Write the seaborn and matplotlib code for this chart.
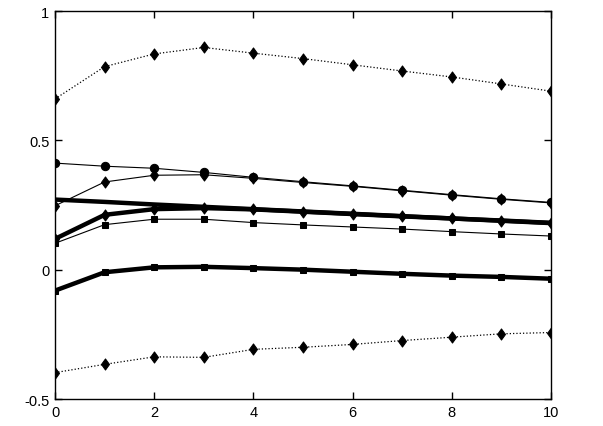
import matplotlib
matplotlib.use("Agg")
import matplotlib.pyplot as plt
from matplotlib.path import Path
import seaborn as sns
import pandas as pd

# horizon
steps = [0, 1, 2, 3, 4, 5, 6, 7, 8, 9, 10]

# series values
upper_dotted = [0.660, 0.785, 0.834, 0.859, 0.837, 0.816, 0.792, 0.768, 0.745, 0.718, 0.690]
thin_circle = [0.412, 0.400, 0.392, 0.376, 0.357, 0.340, 0.324, 0.307, 0.290, 0.274, 0.260]
thin_diamond = [0.247, 0.339, 0.365, 0.367, 0.353, 0.337, 0.322, 0.305, 0.288, 0.272, 0.258]
thick_plain = [0.271, 0.262, 0.252, 0.243, 0.234, 0.225, 0.216, 0.207, 0.198, 0.189, 0.180]
thick_diamond = [0.119, 0.212, 0.234, 0.238, 0.233, 0.224, 0.215, 0.206, 0.198, 0.190, 0.181]
thin_square = [0.102, 0.174, 0.195, 0.195, 0.182, 0.173, 0.165, 0.157, 0.147, 0.138, 0.130]
thick_square = [-0.081, -0.010, 0.009, 0.011, 0.006, 0.000, -0.008, -0.016, -0.023, -0.028, -0.035]
lower_dotted = [-0.398, -0.366, -0.337, -0.339, -0.308, -0.300, -0.289, -0.274, -0.261, -0.248, -0.243]

x_ticks = [0, 2, 4, 6, 8, 10]
y_ticks = [-0.5, 0, 0.5, 1]
y_tick_labels = ["-0.5", "0", "0.5", "1"]

sns.set_style("white")
plt.rcParams["font.family"] = ["Liberation Sans", "DejaVu Sans"]

# MATLAB-like diamond (wider than matplotlib's thin diamond)
diamond = Path([(0, -1), (0.72, 0), (0, 1), (-0.72, 0), (0, -1)],
               [Path.MOVETO, Path.LINETO, Path.LINETO, Path.LINETO, Path.CLOSEPOLY])
DMS = 8.0

fig = plt.figure(figsize=(6.03, 4.27), dpi=100)
ax = fig.add_axes([55 / 603, 1 - 400 / 427, (551 - 55) / 603, (400 - 12) / 427])

series = [
    (upper_dotted, dict(linestyle=":", linewidth=0.9, marker=diamond, markersize=DMS)),
    (lower_dotted, dict(linestyle=":", linewidth=0.9, marker=diamond, markersize=DMS)),
    (thin_circle, dict(linestyle="-", linewidth=0.8, marker="o", markersize=6.0)),
    (thin_diamond, dict(linestyle="-", linewidth=0.8, marker=diamond, markersize=DMS)),
    (thin_square, dict(linestyle="-", linewidth=0.8, marker="s", markersize=5.0)),
    (thick_plain, dict(linestyle="-", linewidth=3.2, marker=None)),
    (thick_diamond, dict(linestyle="-", linewidth=3.2, marker=diamond, markersize=DMS)),
    (thick_square, dict(linestyle="-", linewidth=3.2, marker="s", markersize=5.0)),
]

for vals, kw in series:
    df = pd.DataFrame({"x": steps, "y": vals})
    sns.lineplot(data=df, x="x", y="y", ax=ax, color="black",
                 markeredgecolor="black", markerfacecolor="black",
                 estimator=None, sort=False, **kw)

ax.set_xlim(0, 10)
ax.set_ylim(-0.5, 1)
ax.set_xticks(x_ticks)
ax.set_xticklabels([str(t) for t in x_ticks])
ax.set_yticks(y_ticks)
ax.set_yticklabels(y_tick_labels)
ax.set_xlabel("")
ax.set_ylabel("")
for s in ax.spines.values():
    s.set_visible(True)
    s.set_color("black")
    s.set_linewidth(1.0)
ax.tick_params(direction="in", length=5, width=1, colors="black",
               top=True, right=True, labelsize=10.5, pad=4)
ax.tick_params(axis="y", left=True)
ax.tick_params(axis="x", bottom=True)

fig.savefig("out.png", dpi=100)
